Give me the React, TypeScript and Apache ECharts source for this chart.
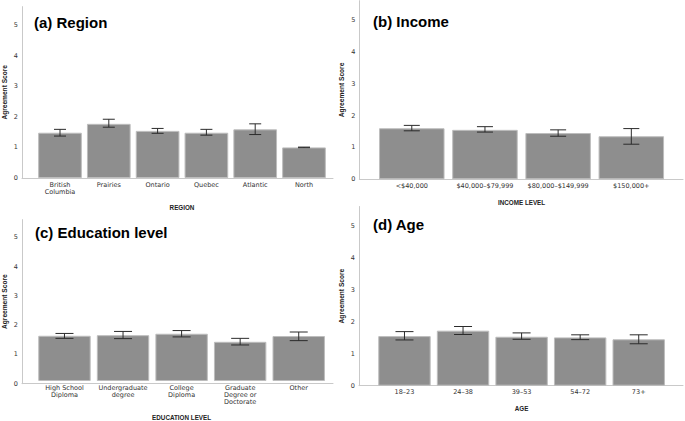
import React, { useEffect, useRef } from "react";
import * as echarts from "echarts";

const regionCats = ["British\nColumbia", "Prairies", "Ontario", "Quebec", "Atlantic", "North"];
const regionMean = [1.48, 1.77, 1.54, 1.48, 1.59, 1.0];
const regionLow = [1.37, 1.66, 1.46, 1.4, 1.42, 0.99];
const regionHigh = [1.59, 1.92, 1.62, 1.59, 1.77, 1.01];

const incomeCats = ["<$40,000", "$40,000–$79,999", "$80,000–$149,999", "$150,000+"];
const incomeMean = [1.6, 1.55, 1.45, 1.35];
const incomeLow = [1.52, 1.48, 1.35, 1.1];
const incomeHigh = [1.69, 1.65, 1.55, 1.59];

const eduCats = ["High School\nDiploma", "Undergraduate\ndegree", "College\nDiploma", "Graduate\nDegree or\nDoctorate", "Other"];
const eduMean = [1.57, 1.59, 1.64, 1.36, 1.56];
const eduLow = [1.48, 1.47, 1.53, 1.25, 1.4];
const eduHigh = [1.65, 1.72, 1.75, 1.48, 1.7];

const ageCats = ["18–23", "24–38", "39–53", "54–72", "73+"];
const ageMean = [1.55, 1.72, 1.53, 1.51, 1.45];
const ageLow = [1.43, 1.6, 1.45, 1.44, 1.31];
const ageHigh = [1.69, 1.85, 1.65, 1.59, 1.59];

const yTicks = [0, 1, 2, 3, 4, 5];
const yMax = 5.6;

const panels = [
  { title: "(a) Region", xName: "REGION", cats: regionCats, mean: regionMean, low: regionLow, high: regionHigh,
    axisX: 19, xEnd: 333, base: 178, unit: 30.6, bandL: 35.6, bandR: 328.4, titleX: 34, titleY: 15, nameGap: 26, cap: 12 },
  { title: "(b) Income", xName: "INCOME LEVEL", cats: incomeCats, mean: incomeMean, low: incomeLow, high: incomeHigh,
    axisX: 359.3, xEnd: 683, base: 179.3, unit: 31.9, bandL: 375.2, bandR: 667.9, titleX: 373, titleY: 13.5, nameGap: 20, cap: 16 },
  { title: "(c) Education level", xName: "EDUCATION LEVEL", cats: eduCats, mean: eduMean, low: eduLow, high: eduHigh,
    axisX: 19.3, xEnd: 333, base: 383.7, unit: 29.3, bandL: 35.2, bandR: 328, titleX: 35, titleY: 224.5, nameGap: 33, cap: 18 },
  { title: "(d) Age", xName: "AGE", cats: ageCats, mean: ageMean, low: ageLow, high: ageHigh,
    axisX: 359, xEnd: 683, base: 385.7, unit: 32, bandL: 375.2, bandR: 668, titleX: 373, titleY: 217, nameGap: 19.3, cap: 18 },
];

const axisColor = "#c9c9c9";
const textColor = "#333";
const labelFont = "DejaVu Sans";

export default function App() {
  const ref = useRef<HTMLDivElement>(null);
  useEffect(() => {
    if (!ref.current) return;
    const chart = echarts.init(ref.current, undefined, { renderer: "svg" });
    const grid: any[] = [];
    const xAxis: any[] = [];
    const yAxis: any[] = [];
    const series: any[] = [];
    const title: any[] = [];
    panels.forEach((p, i) => {
      const top = p.base - yMax * p.unit;
      const h = p.base - top;
      // outer grid (axis frame)
      grid.push({ left: p.axisX, top, width: p.xEnd - p.axisX, height: h, containLabel: false });
      // inner grid (bars)
      grid.push({ left: p.bandL, top, width: p.bandR - p.bandL, height: h, containLabel: false });
      const go = i * 2;
      const gi = i * 2 + 1;
      xAxis.push({
        type: "value", gridIndex: go, min: 0, max: 1,
        axisLine: { show: true, lineStyle: { color: axisColor, width: 1 } },
        axisTick: { show: false }, axisLabel: { show: false }, splitLine: { show: false },
      });
      xAxis.push({
        type: "category", gridIndex: gi, data: p.cats,
        axisLine: { show: false }, axisTick: { show: false }, splitLine: { show: false },
        axisLabel: { interval: 0, margin: 3, color: textColor, fontFamily: labelFont, fontSize: 6.5, lineHeight: 7.3 },
        name: p.xName, nameLocation: "middle", nameGap: p.nameGap,
        nameTextStyle: { color: "#222", fontFamily: "Liberation Sans", fontWeight: "bold", fontSize: 6.3 },
      });
      yAxis.push({
        type: "value", gridIndex: go, min: 0, max: yMax,
        axisLine: { show: true, lineStyle: { color: axisColor, width: 1 } },
        axisTick: { show: false }, splitLine: { show: false },
        axisLabel: { customValues: yTicks, margin: 4, color: textColor, fontFamily: labelFont, fontSize: 6.5 },
        name: "Agreement Score", nameLocation: "middle", nameGap: 14,
        nameTextStyle: { color: "#222", fontFamily: "Liberation Sans", fontWeight: "bold", fontSize: 6.6 },
      });
      yAxis.push({
        type: "value", gridIndex: gi, min: 0, max: yMax, show: false,
      });
      series.push({
        type: "bar", xAxisIndex: gi, yAxisIndex: gi, data: p.mean,
        barCategoryGap: "10.5%",
        itemStyle: { color: "#8e8e8e", borderColor: "#bdbdbd", borderWidth: 1 },
        silent: true,
      });
      const cap = p.cap;
      series.push({
        type: "custom", xAxisIndex: gi, yAxisIndex: gi,
        data: p.cats.map((_, k) => [k, p.low[k], p.high[k]]),
        z: 10,
        renderItem: (params: any, api: any) => {
          const lo = api.coord([api.value(0), api.value(1)]);
          const hi = api.coord([api.value(0), api.value(2)]);
          const style = { stroke: "#2b2b2b", lineWidth: 1 };
          const half = cap / 2;
          return {
            type: "group",
            children: [
              { type: "line", shape: { x1: hi[0], y1: hi[1], x2: lo[0], y2: lo[1] }, style },
              { type: "line", shape: { x1: hi[0] - half, y1: hi[1], x2: hi[0] + half, y2: hi[1] }, style },
              { type: "line", shape: { x1: lo[0] - half, y1: lo[1], x2: lo[0] + half, y2: lo[1] }, style },
            ],
          };
        },
      });
      title.push({
        text: p.title, left: p.titleX, top: p.titleY, padding: 0,
        textStyle: { fontFamily: "Liberation Sans", fontWeight: "bold", fontSize: 15, color: "#000" },
      });
    });
    chart.setOption({
      animation: false,
      backgroundColor: "#fff",
      title, grid, xAxis, yAxis, series,
    });
    return () => chart.dispose();
  }, []);
  return (
    <div
      ref={ref}
      style={{ position: "fixed", left: 0, top: 0, width: 685, height: 421 }}
    />
  );
}
